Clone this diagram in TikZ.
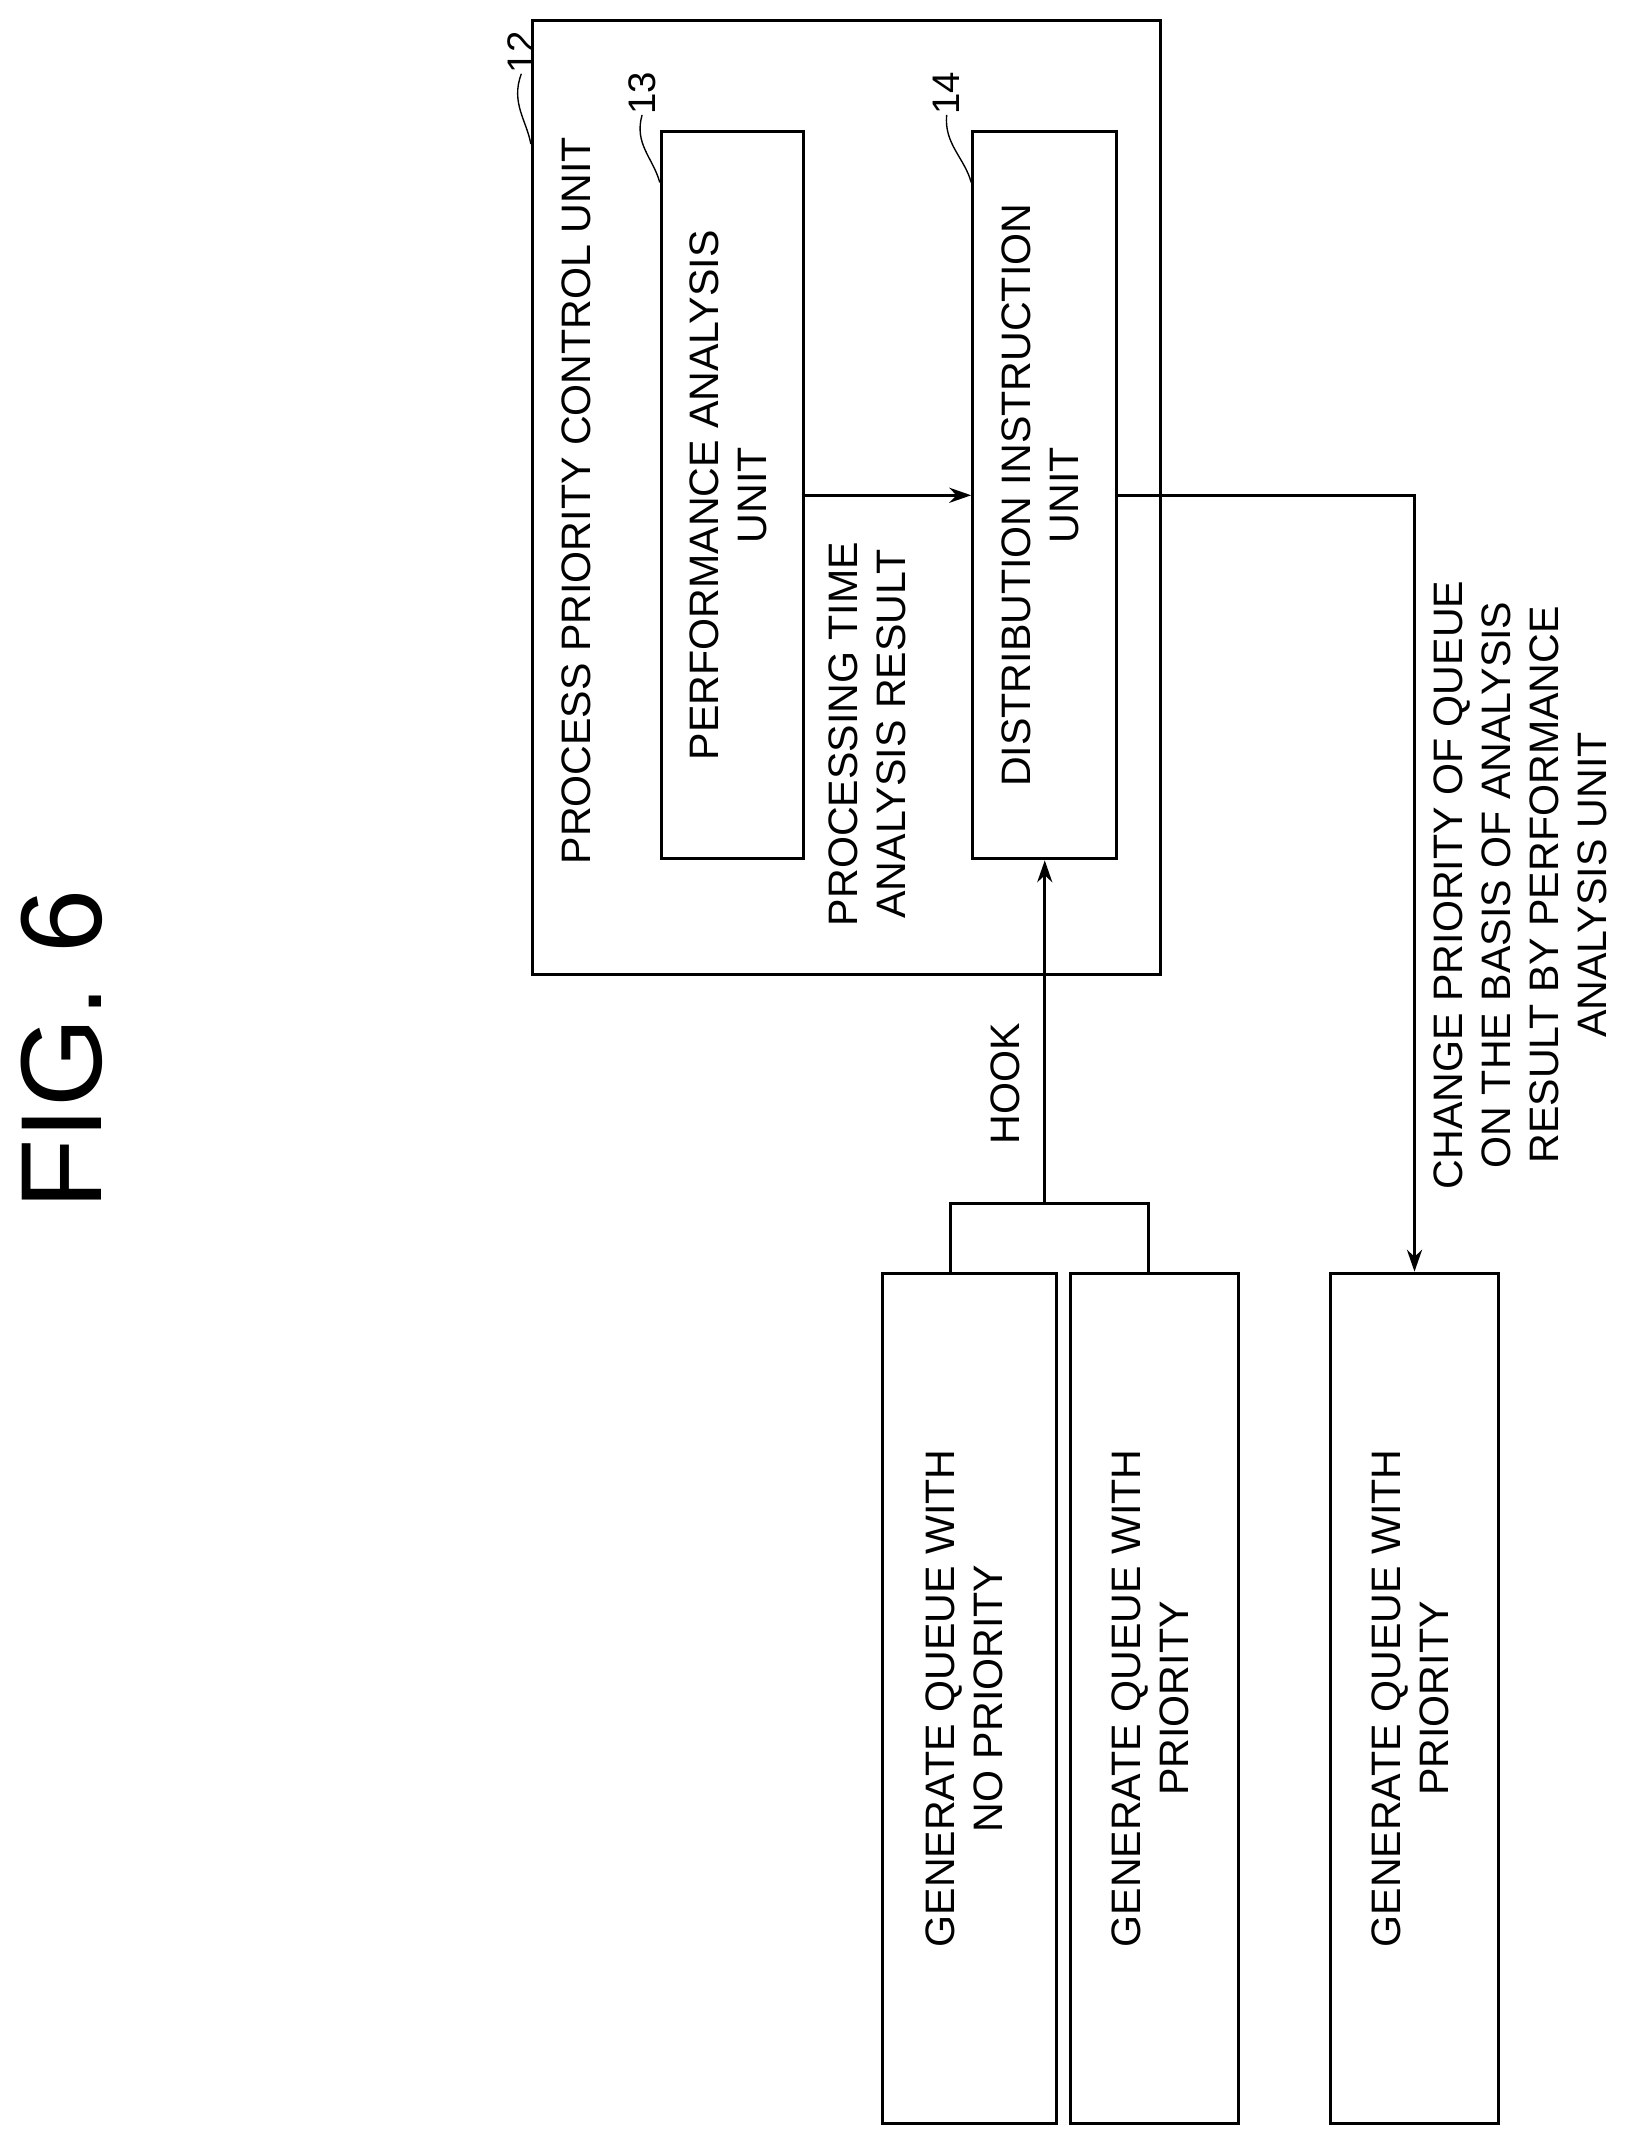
\documentclass[tikz,border=0pt]{standalone}
\usepackage{fontspec}
\setmainfont{Liberation Sans}
\usetikzlibrary{arrows.meta}
\tikzset{
  box/.style={draw, line width=2.2pt, inner sep=0pt},
  conn/.style={line width=2.2pt},
  arr/.style={conn, -{Stealth[length=16pt,width=11pt]}},
  lbl/.style={rotate=90, align=center, inner sep=0pt},
  lead/.style={line width=1pt}
}
\newcommand{\vtext}[1]{\rotatebox{90}{\begin{tabular}{@{}c@{}}#1\end{tabular}}}
\begin{document}
\begin{tikzpicture}[x=1pt, y=1pt, font=\fontsize{30}{35}\selectfont]
  \useasboundingbox (0,0) rectangle (1190,-1562);
  % title
  \node[lbl, font=\fontsize{84}{90}\selectfont] (fig) at (45,-765) {FIG. 6};
  % process priority control unit
  \node[box, minimum width=458, minimum height=695] (ppc) at (617,-362.5) {};
  \node[lbl] (ppct) at (420,-365) {PROCESS PRIORITY CONTROL UNIT};
  \node[box, minimum width=104, minimum height=530] (pa) at (534,-361)
    {\vtext{PERFORMANCE ANALYSIS\\UNIT}};
  \node[box, minimum width=105, minimum height=530] (di) at (761.5,-361)
    {\vtext{DISTRIBUTION INSTRUCTION\\UNIT}};
  % reference numbers
  \node[lbl, font=\fontsize{28}{30}\selectfont] (n12) at (380,-38) {12};
  \node[lbl, font=\fontsize{28}{30}\selectfont] (n13) at (468,-68) {13};
  \node[lbl, font=\fontsize{28}{30}\selectfont] (n14) at (690,-68) {14};
  \draw[lead] (n12.west) .. controls (372,-75) and (384,-88) .. (ppc.west |- 0,-105);
  \draw[lead] (n13.west) .. controls (462,-105) and (476,-115) .. (pa.west |- 0,-133);
  \draw[lead] (n14.west) .. controls (688,-105) and (703,-115) .. (di.west |- 0,-133);
  % queues
  \node[box, minimum width=127, minimum height=620] (qa) at (706.5,-1238)
    {\vtext{GENERATE QUEUE WITH\\NO PRIORITY}};
  \node[box, minimum width=123, minimum height=620] (qb) at (841.5,-1238)
    {\vtext{GENERATE QUEUE WITH\\PRIORITY}};
  \node[box, minimum width=122, minimum height=620] (qc) at (1031,-1238)
    {\vtext{GENERATE QUEUE WITH\\PRIORITY}};
  % connectors
  \draw[arr] (pa.east) -- (di.west);
  \node[lbl] (ptar) at (632,-535) {PROCESSING TIME\\ANALYSIS RESULT};
  \coordinate (ja) at (693,-877);
  \coordinate (jb) at (837,-877);
  \draw[conn] (qa.north -| ja) -- (ja) -- (jb) -- (qb.north -| jb);
  \draw[arr] (ja -| di.south) -- (di.south);
  \node[lbl] (hook) at (733,-790) {HOOK};
  \draw[arr] (di.east) -| (qc.north);
  \node[lbl] (chg) at (1108,-645) {CHANGE PRIORITY OF QUEUE\\ON THE BASIS OF ANALYSIS\\RESULT BY PERFORMANCE\\ANALYSIS UNIT};
\end{tikzpicture}
\end{document}
